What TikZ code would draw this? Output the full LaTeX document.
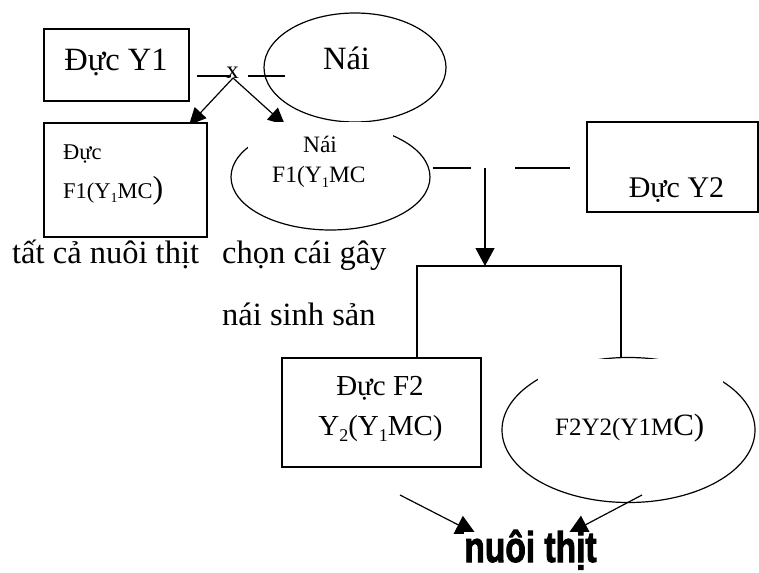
\documentclass[tikz,border=0pt]{standalone}
\usepackage{fontspec}
\usepackage{graphicx}
\setmainfont{Liberation Serif}
\newfontfamily\heavysans{Liberation Sans}[BoldFeatures={FakeBold=2.5}]
\usetikzlibrary{shapes.geometric,arrows.meta}

% font size helper
\newcommand{\fsz}[1]{\fontsize{#1}{#1}\selectfont}
% lowered small index digit
\newcommand{\lowidx}[1]{\raisebox{-0.22em}{\fontsize{0.62em}{0.62em}\selectfont #1}}

\tikzset{
  box/.style={draw, line width=1.2pt, fill=white, inner sep=0pt},
  oval/.style={ellipse, draw, line width=1.2pt, inner sep=0pt},
  conn/.style={line width=1.2pt},
  arr/.style={conn, -{Triangle[length=17pt,width=16pt]}},
  bigarr/.style={conn, -{Triangle[length=20pt,width=20pt]}},
  lbl/.style={inner sep=0pt, anchor=base west},
  clbl/.style={inner sep=0pt, anchor=base},
  bigtext/.style={font=\fsz{32.5}},
  midtext/.style={font=\fsz{29}},
  smalltext/.style={font=\fsz{22.5}},
}

\begin{document}
\begin{tikzpicture}[x=1pt,y=-1pt]
\useasboundingbox (0,0) rectangle (759,572);

% ---- first generation ----
\node[box, minimum width=145pt, minimum height=72pt] (y1) at (116.5,65) {};
\node[clbl, bigtext] (y1t) at (116,71) {Đực Y1};

\node[oval, minimum width=182pt, minimum height=109pt] (nai) at (355,67.5) {};
\node[clbl, bigtext] (nait) at (346.5,70) {Nái};

% cross sign between the parents
\node[clbl, font=\fsz{25}] (cross) at (232.5,79) {x};
\coordinate (xl1) at (197,76);
\coordinate (xl2) at (231,76);
\coordinate (xr1) at (248,76);
\coordinate (xr2) at (285,76);
\draw[conn] (xl1) -- (xl2);
\draw[conn] (xr1) -- (xr2);

\coordinate (xs) at (233,78);
\coordinate (tipl) at (189,125);
\coordinate (tipr) at (285,125);
\draw[arr] (xs) -- (tipl);
\draw[arr] (xs) -- (tipr);

% ---- F1 ----
\node[box, minimum width=163pt, minimum height=114pt] (f1m) at (125.5,180) {};
\node[lbl, smalltext] (f1mt1) at (63,160) {Đực};
\node[lbl, smalltext] (f1mt2) at (63,198) {F1(Y\lowidx{1}MC{\fsz{32})}};

\node[oval, minimum width=199pt, minimum height=106pt] (f1f) at (330.5,177) {};
\fill[white] (248,122) rectangle (393,150);
\node[clbl, font=\fsz{23.5}] (f1ft1) at (320,153) {Nái};
\node[lbl, font=\fsz{23.5}] (f1ft2) at (272,182) {F1(Y\lowidx{1}MC};

\node[lbl, bigtext] (lab1) at (12,263) {tất cả nuôi thịt};
\node[lbl, bigtext] (lab2) at (222,263) {chọn cái gây};
\node[lbl, bigtext] (lab3) at (222,325) {nái sinh sản};

% ---- second cross with Y2 ----
\node[box, minimum width=171pt, minimum height=90pt] (y2) at (672.5,167) {};
\node[clbl, font=\fsz{30}] (y2t) at (676.5,197) {Đực Y2};

\coordinate (h1) at (433,168);
\coordinate (h2) at (471,168);
\coordinate (h3) at (515,168);
\coordinate (h4) at (570,168);
\draw[conn] (h1) -- (h2);
\draw[conn] (h3) -- (h4);

\coordinate (vd1) at (485,168);
\coordinate (vd2) at (485,266);
\draw[conn, -{Triangle[length=18pt,width=19pt]}] (vd1) -- (vd2);

% ---- F2 ----
\node[box, minimum width=199pt, minimum height=109pt] (f2m) at (381.5,412.5) {};
\node[clbl, midtext] (f2mt1) at (380,395) {Đực F2};
\node[clbl, midtext] (f2mt2) at (380.5,435) {Y\lowidx{2}(Y\lowidx{1}MC)};

\node[oval, minimum width=253pt, minimum height=145pt] (f2f) at (628.5,430) {};
\fill[white] (538,359.2) rectangle (723,386);
\node[lbl, font=\fsz{25}] (f2ft) at (555,435) {F2Y2(Y1M{\fsz{31}C)}};

% distribution bracket
\coordinate (bl) at (417,358);
\coordinate (blt) at (417,266);
\coordinate (brt) at (621,266);
\coordinate (br) at (621,357.5);
\draw[conn] (bl) -- (blt) -- (brt) -- (br);

% ---- fattening ----
\coordinate (ls) at (400,495);
\coordinate (le) at (476,534);
\coordinate (rs) at (642,495);
\coordinate (re) at (568,534);
\draw[bigarr] (ls) -- (le);
\draw[bigarr] (rs) -- (re);

\node[clbl, fill=white, text height=30pt, text depth=6pt, font=\heavysans\bfseries\fsz{43}] (meat) at (530.5,562)
  {\scalebox{0.78}[1]{nuôi thịt}};
\end{tikzpicture}
\end{document}
